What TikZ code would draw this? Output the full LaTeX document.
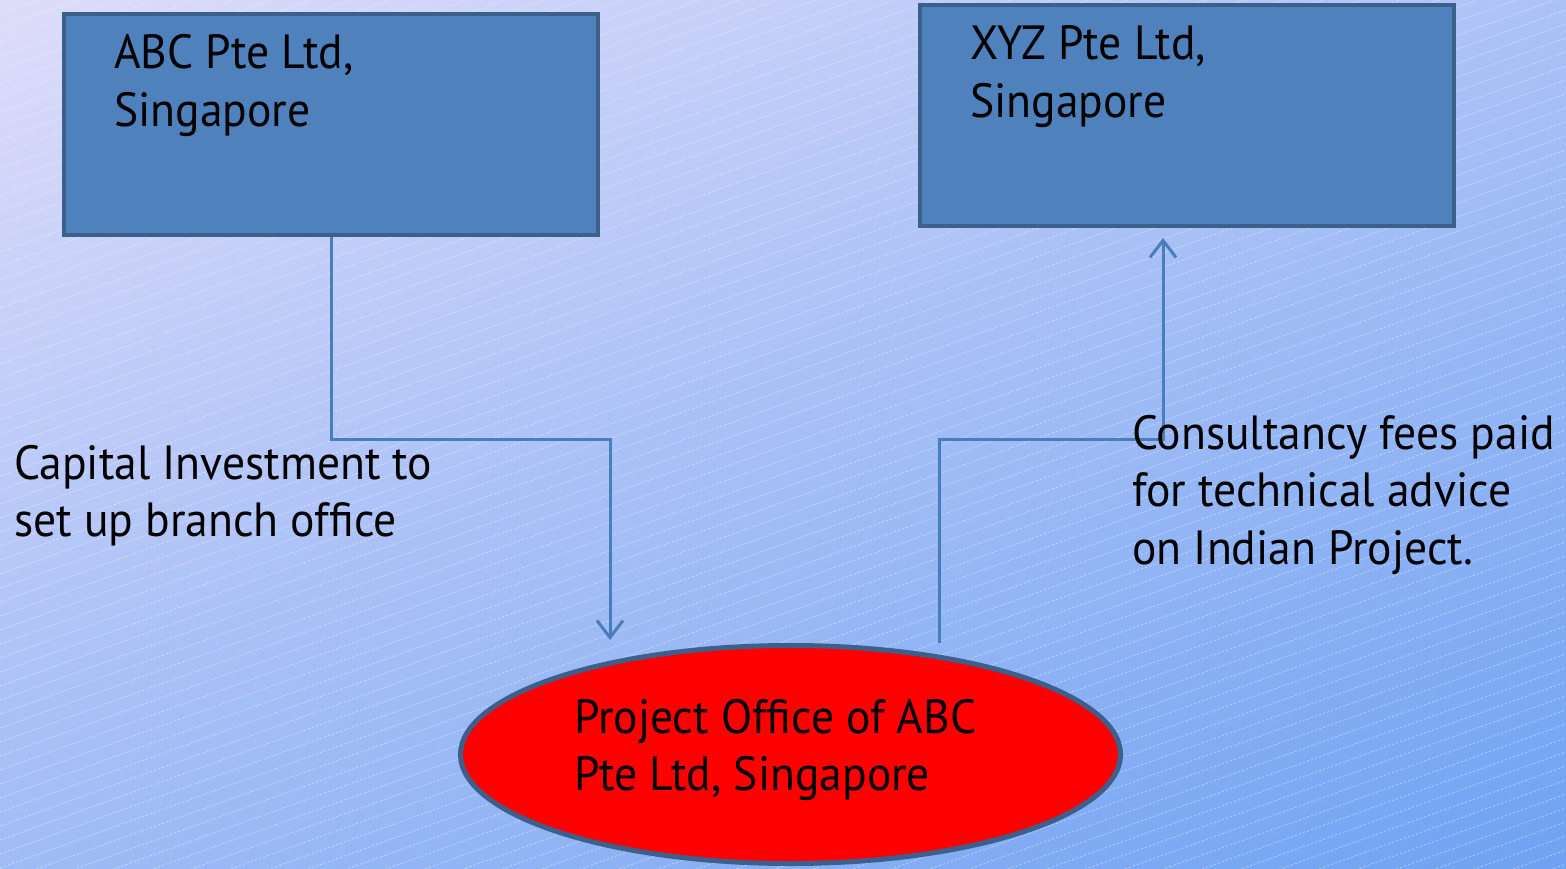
\documentclass[tikz,border=0pt]{standalone}
\usepackage{fontspec}
\setmainfont{PT Sans}[FakeStretch=0.95]
\usetikzlibrary{arrows.meta,shapes.geometric}

\definecolor{boxfill}{HTML}{4F81BD}
\definecolor{boxline}{HTML}{3C5F8C}
\definecolor{wire}{HTML}{4A7EBB}
\definecolor{bgtop}{HTML}{DEDCFA}
\definecolor{bgbottom}{HTML}{6EA2F2}

% linear sweep: the path is fitted to the 25bp--75bp band
\pgfdeclareverticalshading{bgsweep}{100bp}{color(0bp)=(bgbottom); color(25bp)=(bgbottom); color(75bp)=(bgtop); color(100bp)=(bgtop)}

\tikzset{
  company/.style={draw=boxline, fill=boxfill, line width=4pt, rectangle,
    minimum width=534pt, minimum height=221pt, inner sep=0pt},
  office/.style={draw=boxline, fill=red, line width=5pt, ellipse,
    minimum width=660pt, minimum height=218pt, inner sep=0pt},
  caption/.style={anchor=base west, inner sep=0pt, text=black,
    font=\fontsize{48}{57.6}\selectfont},
  flow/.style={draw=wire, line width=3pt,
    -{Straight Barb[length=17pt, width=26pt, line width=3pt]}},
  hatch/.style={white, opacity=0.4, line width=0.8pt, dash pattern=on 2.5pt off 1.8pt},
}

\newcommand{\lines}[1]{\begin{tabular}[t]{@{}l@{}}#1\end{tabular}}

\begin{document}
\begin{tikzpicture}[x=1pt, y=-1pt]
  \useasboundingbox (0,0) rectangle (1566,869);

  % background: diagonal gradient with faint dashed hatching
  \begin{scope}
    \clip (0,0) rectangle (1566,869);
    \begin{scope}[transform canvas={rotate=24}]
      \shade[shading=bgsweep] (-354,0) rectangle (1431,1431);
    \end{scope}
    \foreach \k in {0,...,105}
      \draw[hatch] (0,\k*14) -- ++(1566,-564);
  \end{scope}

  % companies
  \node[company] (abc) at (331,124.5) {};
  \node[company] (xyz) at (1187,115.5) {};
  \node[caption] (abctext) at (114,69) {\lines{ABC Pte Ltd,\\Singapore}};
  \node[caption] (xyztext) at (970,60) {\lines{XYZ Pte Ltd,\\Singapore}};

  % project office
  \node[office] (po) at (790.5,754.5) {};
  \node[caption] (potext) at (574,733) {\lines{Project Office of ABC\\Pte Ltd, Singapore}};

  % flow of capital
  \coordinate (capbend) at (610,439);
  \coordinate (captip) at (610,640);
  \draw[flow] (abc.south) |- (capbend) -- (captip);
  \node[caption] (caplabel) at (14,479) {\lines{Capital Investment to\\set up branch office}};

  % flow of fees
  \coordinate (feestart) at (939,643);
  \coordinate (feebend) at (1163,439);
  \coordinate (feetip) at (1163,238);
  \draw[flow] (feestart) |- (feebend) -- (feetip);
  \node[caption] (feelabel) at (1132,449) {\lines{Consultancy fees paid\\for technical advice\\on Indian Project.}};
\end{tikzpicture}
\end{document}
